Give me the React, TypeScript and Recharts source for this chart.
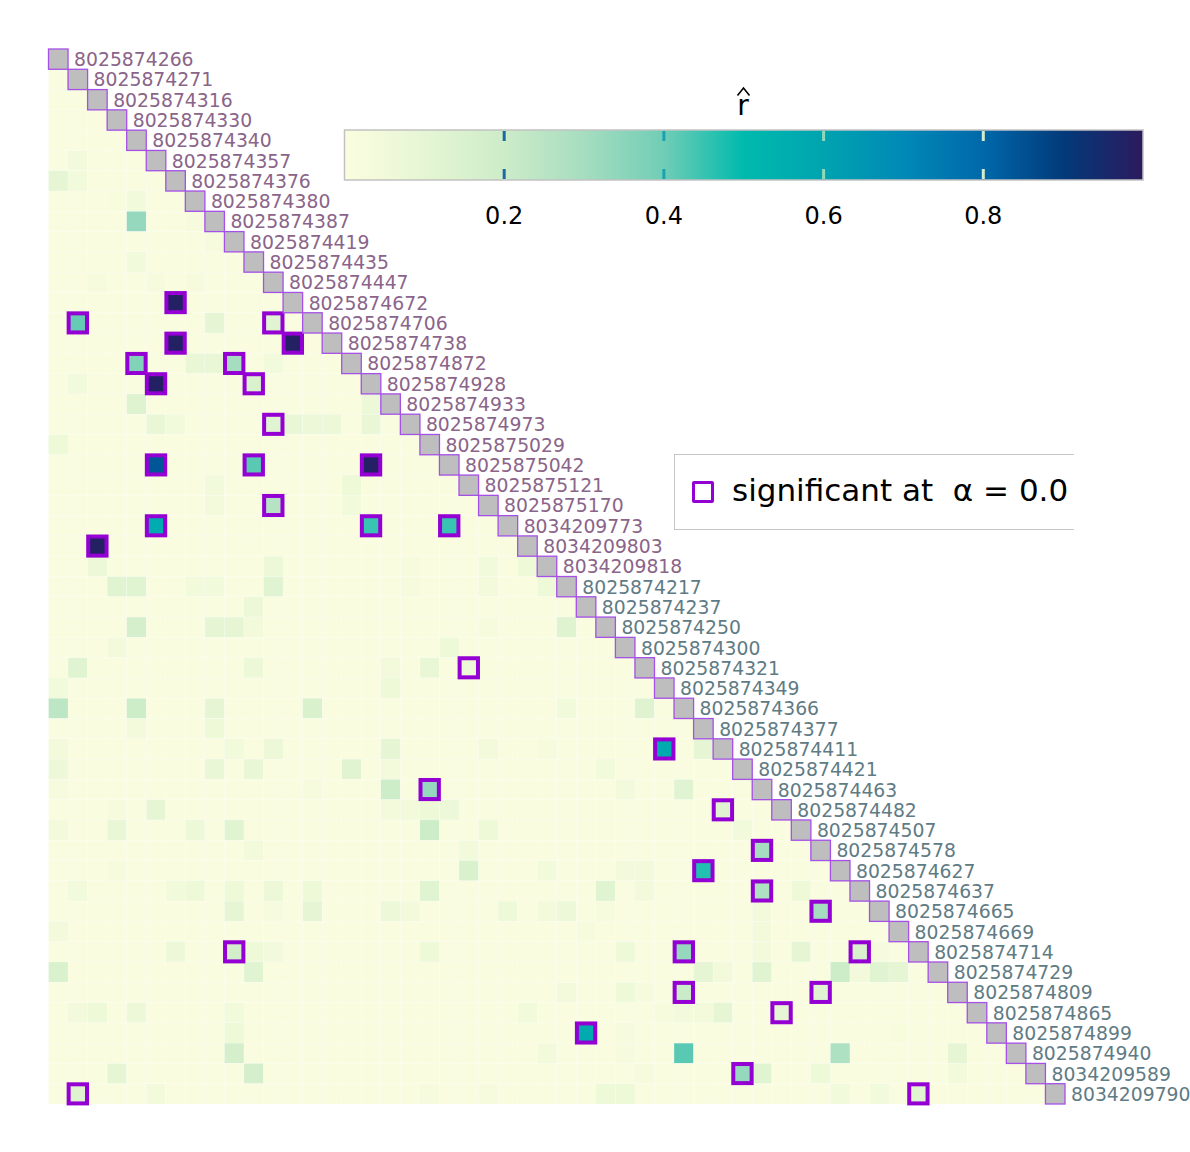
import React from "react";
import { ScatterChart, Scatter, XAxis, YAxis } from "recharts";

// sample ids, in plot order (first block purple, second block grey-teal)
const LABELS_A = [
  "8025874266", "8025874271", "8025874316", "8025874330", "8025874340",
  "8025874357", "8025874376", "8025874380", "8025874387", "8025874419",
  "8025874435", "8025874447", "8025874672", "8025874706", "8025874738",
  "8025874872", "8025874928", "8025874933", "8025874973", "8025875029",
  "8025875042", "8025875121", "8025875170", "8034209773", "8034209803",
  "8034209818",
];
const LABELS_B = [
  "8025874217", "8025874237", "8025874250", "8025874300", "8025874321",
  "8025874349", "8025874366", "8025874377", "8025874411", "8025874421",
  "8025874463", "8025874482", "8025874507", "8025874578", "8025874627",
  "8025874637", "8025874665", "8025874669", "8025874714", "8025874729",
  "8025874809", "8025874865", "8025874899", "8025874940", "8034209589",
  "8034209790",
];

// r-hat for cells that stand out from the background [row, col, value]
const BASE_R = 0.01;
const NOTABLE: [number, number, number][] = [
  [12, 6, 0.98], [13, 1, 0.41], [13, 11, 0.12], [14, 6, 0.98], [14, 12, 0.98],
  [15, 4, 0.37], [15, 9, 0.3], [16, 5, 0.98], [16, 10, 0.15], [18, 11, 0.12],
  [20, 5, 0.84], [20, 10, 0.42], [20, 16, 0.98], [22, 11, 0.26], [23, 5, 0.56],
  [23, 16, 0.45], [23, 20, 0.45], [24, 2, 0.98], [30, 21, 0.06], [34, 31, 0.57],
  [36, 19, 0.33], [37, 34, 0.12], [39, 36, 0.3], [40, 33, 0.47], [41, 36, 0.28],
  [42, 39, 0.3], [44, 9, 0.18], [44, 32, 0.33], [44, 41, 0.15], [46, 32, 0.21],
  [46, 39, 0.12], [47, 37, 0.1], [48, 27, 0.57], [50, 35, 0.33], [51, 1, 0.13],
  [51, 44, 0.12],
  [5, 1, 0.04], [6, 0, 0.1], [6, 1, 0.05], [7, 3, 0.02], [7, 4, 0.05], [8, 4, 0.33],
  [8, 7, 0.03], [9, 8, 0.03], [10, 4, 0.05], [11, 2, 0.03], [11, 5, 0.03], [11, 7, 0.03],
  [13, 8, 0.1], [15, 7, 0.08], [15, 8, 0.08], [15, 11, 0.05], [16, 1, 0.05], [17, 4, 0.13],
  [17, 16, 0.07], [18, 5, 0.08], [18, 6, 0.05], [18, 12, 0.08], [18, 13, 0.07], [18, 14, 0.07],
  [18, 16, 0.08], [19, 0, 0.06], [21, 8, 0.05], [21, 15, 0.06], [22, 8, 0.04], [22, 15, 0.05],
  [25, 2, 0.07], [25, 11, 0.07], [25, 18, 0.03], [25, 22, 0.05], [25, 24, 0.06],
  [26, 3, 0.12], [26, 4, 0.12], [26, 7, 0.05], [26, 8, 0.05], [26, 11, 0.12], [26, 18, 0.03],
  [26, 22, 0.04], [26, 25, 0.06], [27, 10, 0.07],
  [28, 4, 0.17], [28, 8, 0.1], [28, 9, 0.1], [28, 10, 0.04], [28, 22, 0.03], [28, 26, 0.13],
  [29, 3, 0.04], [29, 20, 0.06], [30, 1, 0.12], [30, 10, 0.07], [30, 17, 0.04], [30, 19, 0.08],
  [31, 0, 0.05], [31, 17, 0.06],
  [32, 0, 0.24], [32, 4, 0.2], [32, 8, 0.1], [32, 13, 0.15], [32, 26, 0.05], [32, 30, 0.13],
  [33, 4, 0.04], [33, 8, 0.06],
  [34, 0, 0.04], [34, 9, 0.05], [34, 11, 0.07], [34, 17, 0.1], [34, 22, 0.04], [34, 25, 0.03],
  [34, 33, 0.1],
  [35, 0, 0.07], [35, 8, 0.08], [35, 10, 0.08], [35, 15, 0.12], [35, 17, 0.04], [35, 28, 0.05],
  [36, 0, 0.03], [36, 13, 0.03], [36, 17, 0.2], [36, 29, 0.04], [36, 32, 0.12],
  [37, 3, 0.03], [37, 5, 0.1], [37, 17, 0.04], [37, 18, 0.05], [37, 19, 0.06], [37, 20, 0.07],
  [38, 0, 0.04], [38, 3, 0.08], [38, 7, 0.07], [38, 9, 0.12], [38, 19, 0.2], [38, 22, 0.06],
  [38, 35, 0.05],
  [39, 10, 0.04], [39, 21, 0.05],
  [40, 3, 0.03], [40, 21, 0.15], [40, 25, 0.05], [40, 29, 0.04], [40, 30, 0.04],
  [41, 1, 0.05], [41, 6, 0.05], [41, 7, 0.06], [41, 9, 0.06], [41, 11, 0.07], [41, 13, 0.06],
  [41, 19, 0.12], [41, 28, 0.12], [41, 30, 0.04], [41, 38, 0.06],
  [42, 9, 0.1], [42, 11, 0.03], [42, 13, 0.1], [42, 17, 0.07], [42, 18, 0.04], [42, 23, 0.06],
  [42, 25, 0.04], [42, 26, 0.07], [42, 28, 0.03], [42, 36, 0.04],
  [43, 0, 0.04], [43, 27, 0.03], [43, 36, 0.04],
  [44, 6, 0.07], [44, 10, 0.06], [44, 11, 0.04], [44, 19, 0.06], [44, 29, 0.06], [44, 36, 0.04],
  [44, 38, 0.1], [44, 42, 0.03],
  [45, 0, 0.15], [45, 10, 0.12], [45, 33, 0.1], [45, 34, 0.04], [45, 36, 0.12], [45, 40, 0.2],
  [45, 41, 0.04], [45, 42, 0.12], [45, 43, 0.1],
  [46, 26, 0.04], [46, 29, 0.06], [46, 30, 0.03],
  [47, 1, 0.04], [47, 2, 0.06], [47, 4, 0.07], [47, 9, 0.05], [47, 24, 0.05], [47, 31, 0.03],
  [47, 32, 0.04], [47, 33, 0.04], [47, 34, 0.1],
  [48, 9, 0.06], [48, 29, 0.03], [48, 43, 0.02],
  [49, 9, 0.17], [49, 25, 0.04], [49, 29, 0.03], [49, 32, 0.42], [49, 40, 0.28], [49, 46, 0.1],
  [50, 3, 0.1], [50, 10, 0.17], [50, 30, 0.03], [50, 36, 0.12], [50, 39, 0.06], [50, 46, 0.04],
  [51, 5, 0.04], [51, 19, 0.03], [51, 22, 0.03], [51, 28, 0.06], [51, 29, 0.06], [51, 40, 0.05],
  [51, 42, 0.05],
];

// cells flagged as significant [row, col]
const SIG_CELLS: [number, number][] = [
  [12, 6], [13, 1], [13, 11], [14, 6], [14, 12], [15, 4], [15, 9], [16, 5], [16, 10],
  [18, 11], [20, 5], [20, 10], [20, 16], [22, 11], [23, 5], [23, 16], [23, 20], [24, 2],
  [30, 21], [34, 31], [36, 19], [37, 34], [39, 36], [40, 33], [41, 36], [42, 39], [44, 9],
  [44, 32], [44, 41], [46, 32], [46, 39], [47, 37], [48, 27], [50, 35], [51, 1], [51, 44],
];

const CB_TICKS = [0.2, 0.4, 0.6, 0.8];
const CB_TICK_COLORS = ["#1a6aa6", "#1aa2b2", "#8fd8b9", "#d2eecb"];

const COLOR_STOPS: [number, string][] = [
  [0, "#fbfddf"], [0.1, "#e6f6d4"], [0.2, "#cdecc8"], [0.3, "#a6ddc0"],
  [0.4, "#70cdb6"], [0.5, "#00baad"], [0.6, "#00a3b0"], [0.7, "#0089b6"],
  [0.8, "#0068aa"], [0.9, "#023a7a"], [1, "#2c1a5e"],
];

const LABELS = [...LABELS_A, ...LABELS_B];
const N = LABELS.length;
const W = 1190;
const H = 1152;
const MARGIN = { top: 49, left: 48.5, right: 125, bottom: 48 };
const CW = (W - MARGIN.left - MARGIN.right) / N;
const CH = (H - MARGIN.top - MARGIN.bottom) / N;

function hex(c: string) {
  return [1, 3, 5].map((i) => parseInt(c.slice(i, i + 2), 16));
}

function colorFor(v: number) {
  for (let i = 1; i < COLOR_STOPS.length; i++) {
    const [v1, c1] = COLOR_STOPS[i];
    if (v <= v1) {
      const [v0, c0] = COLOR_STOPS[i - 1];
      const t = (v - v0) / (v1 - v0);
      const a = hex(c0);
      const b = hex(c1);
      const m = a.map((x, k) => Math.round(x + (b[k] - x) * t));
      return `rgb(${m[0]},${m[1]},${m[2]})`;
    }
  }
  return COLOR_STOPS[COLOR_STOPS.length - 1][1];
}

const lookup = new Map<string, number>();
for (const [r, c, v] of NOTABLE) lookup.set(`${r}-${c}`, v);

const cellData: { x: number; y: number; v: number }[] = [];
for (let r = 1; r < N; r++) {
  for (let c = 0; c < r; c++) {
    cellData.push({ x: c + 0.5, y: r + 0.5, v: lookup.get(`${r}-${c}`) ?? BASE_R });
  }
}
const sigData = SIG_CELLS.map(([r, c]) => ({ x: c + 0.5, y: r + 0.5 }));
const diagData = LABELS.map((label, i) => ({ x: i + 0.5, y: i + 0.5, label, groupA: i < LABELS_A.length }));

const CellShape = (p: any) => (
  <rect
    x={p.cx - CW / 2}
    y={p.cy - CH / 2}
    width={CW}
    height={CH}
    fill={colorFor(p.payload.v)}
    stroke="#ffffff"
    strokeOpacity={0.5}
    strokeWidth={0.4}
  />
);

const SigShape = (p: any) => (
  <rect
    x={p.cx - CW / 2 + 0.6}
    y={p.cy - CH / 2 + 0.6}
    width={CW - 1.2}
    height={CH - 1.2}
    fill="none"
    stroke="#9400d3"
    strokeWidth={4}
  />
);

const DiagShape = (p: any) => (
  <g>
    <rect
      x={p.cx - CW / 2}
      y={p.cy - CH / 2}
      width={CW}
      height={CH}
      fill="#bebebe"
      stroke="#a550e6"
      strokeWidth={1.3}
    />
    <text
      x={p.cx + CW / 2 + 6}
      y={p.cy + 7}
      fontSize={18.8}
      fontFamily="DejaVu Sans"
      fill={p.payload.groupA ? "#8a6489" : "#5f7b84"}
    >
      {p.payload.label}
    </text>
  </g>
);

const CB = { x0: 344.5, x1: 1143, y0: 130, y1: 180 };
const cbX = (v: number) => CB.x0 + v * (CB.x1 - CB.x0);

function ColorBar() {
  return (
    <svg width={W} height={H} style={{ position: "absolute", left: 0, top: 0, pointerEvents: "none" }}>
      <defs>
        <linearGradient id="rhat" x1="0" y1="0" x2="1" y2="0">
          {COLOR_STOPS.map(([v, c]) => (
            <stop key={v} offset={`${v * 100}%`} stopColor={c} />
          ))}
        </linearGradient>
      </defs>
      <text x={743} y={115} fontSize={28} fontFamily="DejaVu Sans" textAnchor="middle" fill="#000">
        r
      </text>
      <path d="M737.5 95.5 L743.5 88 L749.5 95.5" fill="none" stroke="#000" strokeWidth={1.6} />
      <rect x={CB.x0} y={CB.y0} width={CB.x1 - CB.x0} height={CB.y1 - CB.y0} fill="url(#rhat)" stroke="#c2c2c2" strokeWidth={1.5} />
      {CB_TICKS.map((t, i) => (
        <g key={t}>
          <line x1={cbX(t)} x2={cbX(t)} y1={CB.y0 + 1} y2={CB.y0 + 11} stroke={CB_TICK_COLORS[i]} strokeWidth={3} />
          <line x1={cbX(t)} x2={cbX(t)} y1={CB.y1 - 11} y2={CB.y1 - 1} stroke={CB_TICK_COLORS[i]} strokeWidth={3} />
          <text x={cbX(t)} y={224} fontSize={24} fontFamily="DejaVu Sans" textAnchor="middle" fill="#000">
            {t.toFixed(1)}
          </text>
        </g>
      ))}
    </svg>
  );
}

function SigLegend() {
  return (
    <div
      style={{
        position: "absolute",
        left: 674,
        top: 454,
        width: 400,
        height: 76,
        border: "1.5px solid #c6c6c6",
        borderRight: "none",
        overflow: "hidden",
        boxSizing: "border-box",
        background: "#fff",
      }}
    >
      <div
        style={{
          position: "absolute",
          left: 17,
          top: 26,
          width: 22,
          height: 22,
          border: "3.5px solid #9400d3",
          borderRadius: 2,
          boxSizing: "border-box",
        }}
      />
      <div
        style={{
          position: "absolute",
          left: 57,
          top: 15,
          width: 335,
          height: 44,
          overflow: "hidden",
          whiteSpace: "pre",
          fontFamily: "DejaVu Sans",
          fontSize: 31,
          lineHeight: "40px",
          color: "#000",
        }}
      >
        {"significant at  \u03b1 = 0.05"}
      </div>
    </div>
  );
}

export default function App() {
  return (
    <div style={{ position: "absolute", left: 0, top: 0, width: W, height: H, background: "#fff" }}>
      <ScatterChart width={W} height={H} margin={MARGIN}>
        <XAxis dataKey="x" type="number" domain={[0, N]} hide />
        <YAxis dataKey="y" type="number" domain={[0, N]} reversed hide />
        <Scatter data={cellData} shape={CellShape} isAnimationActive={false} />
        <Scatter data={sigData} shape={SigShape} isAnimationActive={false} />
        <Scatter data={diagData} shape={DiagShape} isAnimationActive={false} />
      </ScatterChart>
      <ColorBar />
      <SigLegend />
    </div>
  );
}
